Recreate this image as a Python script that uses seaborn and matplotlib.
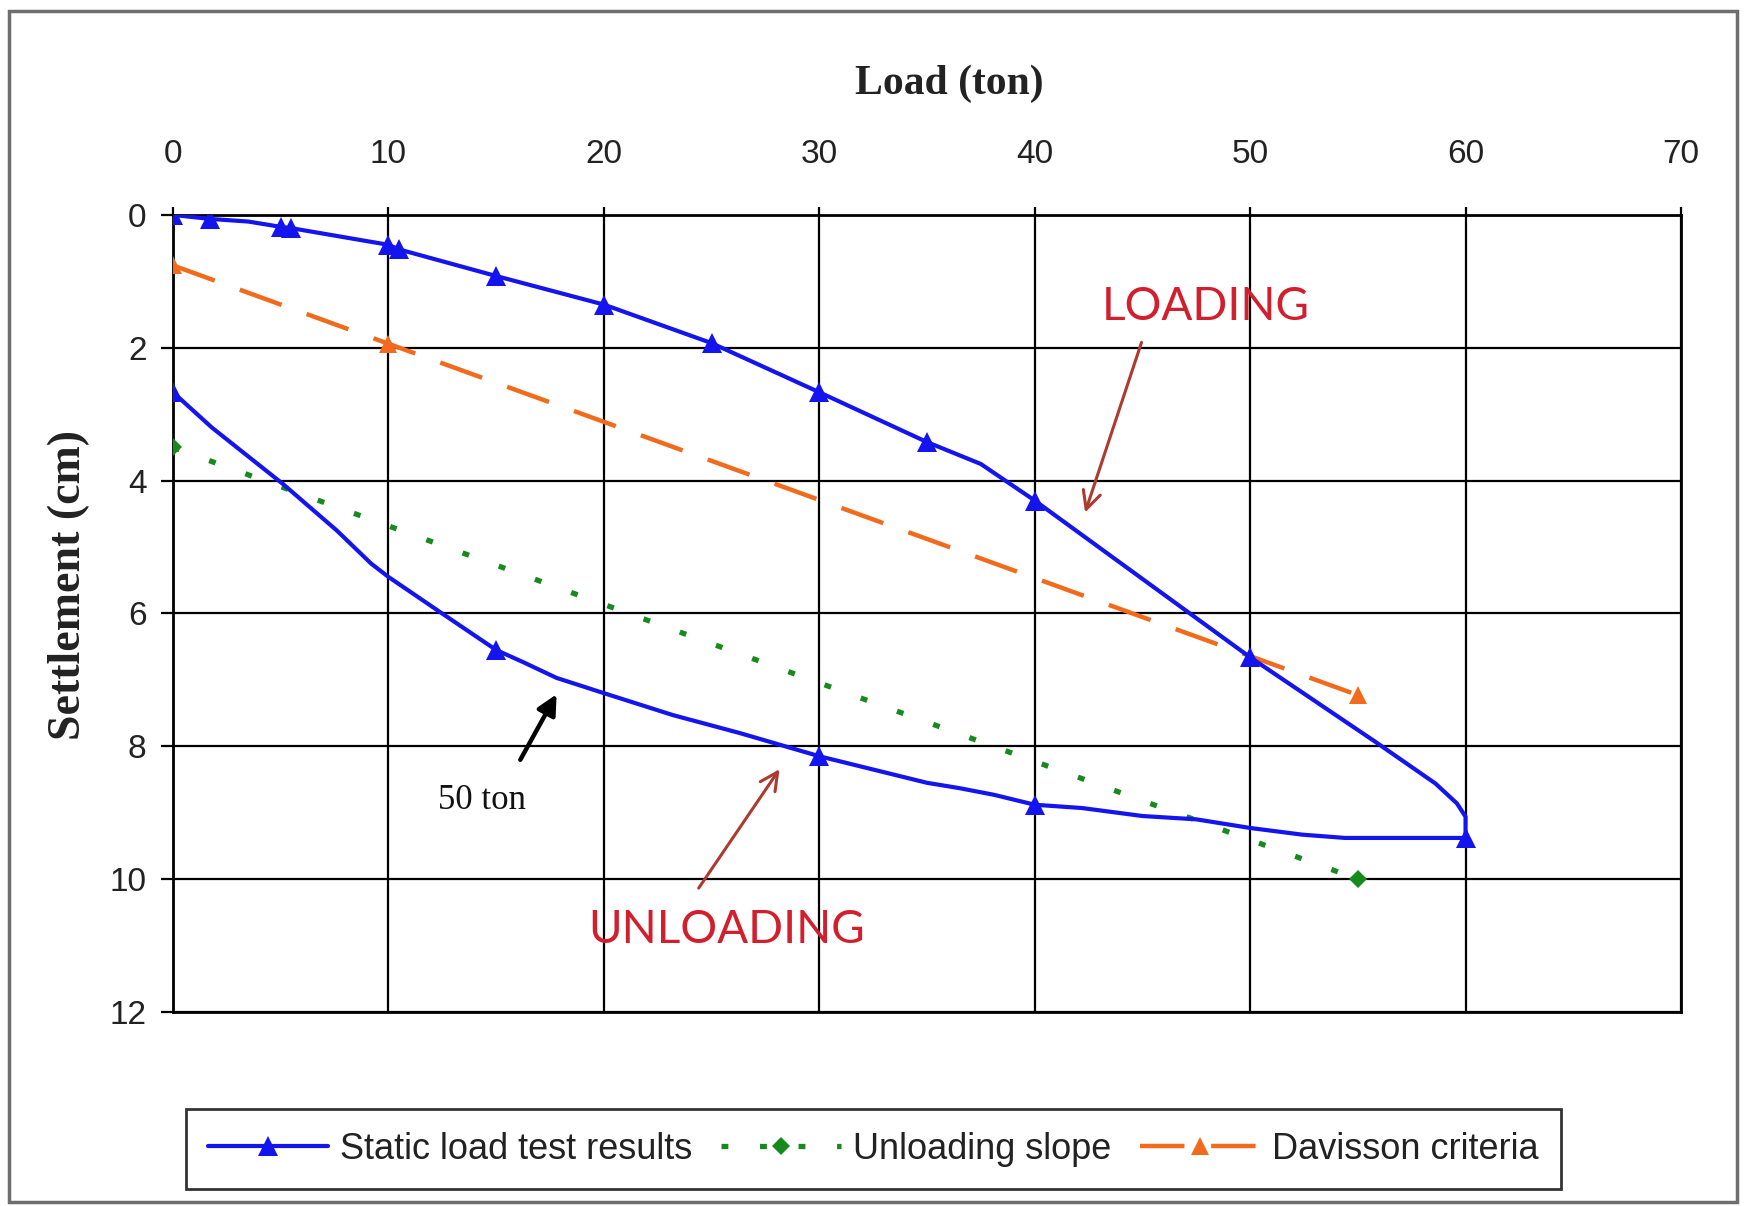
import matplotlib
matplotlib.use("Agg")
import matplotlib.pyplot as plt
import seaborn as sns
from matplotlib.patches import Rectangle

# ---------------- data ----------------
load_static = [0, 1.7, 3.5, 5, 5.5, 10, 10.5, 15, 20, 25, 30, 35, 37.5, 40, 50,
               55.8, 58.6, 59.6, 60, 60,
               54.4, 52.4, 50, 47.5, 45, 42.2, 40, 38.1, 36.5, 35, 30, 26.3, 23.2, 20,
               17.8, 16.3, 15, 12.4, 10, 9.2, 7.6, 5.1, 1.8, 0]
settle_static = [0, 0.06, 0.1, 0.18, 0.2, 0.45, 0.52, 0.92, 1.35, 1.93, 2.67, 3.42, 3.75, 4.3, 6.66,
                 7.93, 8.56, 8.86, 9.06, 9.38,
                 9.38, 9.33, 9.23, 9.1, 9.05, 8.93, 8.88, 8.73, 8.63, 8.55, 8.15, 7.8, 7.53, 7.2,
                 6.97, 6.74, 6.55, 5.98, 5.45, 5.25, 4.75, 4.05, 3.2, 2.67]
static_measured_idx = [0, 1, 3, 4, 5, 6, 7, 8, 9, 10, 11, 13, 14, 19, 26, 30, 36, 43]

load_unload_slope = [0, 55]
settle_unload_slope = [3.5, 10.0]

load_davisson = [0, 10, 55]
settle_davisson = [0.76, 1.94, 7.23]

x_ticks = [0, 10, 20, 30, 40, 50, 60, 70]
y_ticks = [0, 2, 4, 6, 8, 10, 12]

series_labels = ["Static load test results", "Unloading slope", "Davisson criteria"]

# ---------------- style ----------------
sns.set_theme(style="white")
plt.rcParams["font.family"] = ["Liberation Sans", "DejaVu Sans"]

BLUE = "#1414ee"
GREEN = "#168a1c"
ORANGE = "#f26a1b"
RED = "#d21f2e"
BROWN = "#ad3a30"

fig = plt.figure(figsize=(17.49, 12.06), dpi=100)
fig.patch.set_facecolor("white")
ax = fig.add_axes([0.0989, 0.1609, 0.8622, 0.6609])
ax.set_facecolor("white")

sns.lineplot(x=load_static, y=settle_static, sort=False, estimator=None, ax=ax,
             color=BLUE, lw=3.0, marker="^", markersize=14, markeredgewidth=0,
             markevery=static_measured_idx, label=series_labels[0], zorder=5)
sns.lineplot(x=load_unload_slope, y=settle_unload_slope, sort=False, estimator=None, ax=ax,
             color=GREEN, lw=3.8, linestyle=(0, (1.3, 6.0)), marker="D", markersize=9,
             markeredgewidth=0, label=series_labels[1], zorder=4)
sns.lineplot(x=load_davisson, y=settle_davisson, sort=False, estimator=None, ax=ax,
             color=ORANGE, lw=3.2, linestyle=(0, (10, 6)), marker="^", markersize=13,
             markeredgewidth=0, label=series_labels[2], zorder=4)

ax.set_xlim(0, 70)
ax.set_ylim(12, 0)
ax.set_xticks(x_ticks)
ax.set_yticks(y_ticks)
ax.xaxis.tick_top()
ax.tick_params(axis="x", which="both", top=True, bottom=False, labeltop=True,
               labelbottom=False, direction="out", length=6, width=1.6, color="black",
               pad=26, labelsize=24, labelcolor="#222222")
ax.tick_params(axis="y", which="both", left=True, direction="out", length=9, width=1.6,
               color="black", pad=10, labelsize=24, labelcolor="#222222")
ax.grid(True, color="black", lw=1.6)
for s in ax.spines.values():
    s.set_visible(True)
    s.set_color("black")
    s.set_linewidth(2.0)

ax.set_xlabel("Load (ton)", fontfamily="Liberation Serif", fontweight="bold",
              fontsize=30, color="#222222")
ax.xaxis.set_label_position("top")
ax.xaxis.set_label_coords(0.515, 1.164)
ax.xaxis.label.set_va("center")
ax.set_ylabel("Settlement (cm)", fontfamily="Liberation Serif", fontweight="bold",
              fontsize=33, color="#222222")
ax.yaxis.set_label_coords(-0.069, 0.536)
ax.yaxis.label.set_va("center")

# annotations
ax.text(47.96, 1.39, "LOADING", color=RED, fontfamily="Lato", fontsize=33,
        ha="center", va="center")
ax.annotate("", xy=(42.3, 4.52), xytext=(45.0, 1.88),
            arrowprops=dict(arrowstyle="->", color=BROWN, lw=2.2, mutation_scale=32))
ax.text(25.72, 10.77, "UNLOADING", color=RED, fontfamily="Lato", fontsize=33,
        ha="center", va="center")
ax.annotate("", xy=(28.23, 8.31), xytext=(24.33, 10.17),
            arrowprops=dict(arrowstyle="->", color=BROWN, lw=2.2, mutation_scale=32))
ax.text(14.35, 8.81, "50 ton", color="#111111", fontfamily="Liberation Serif",
        fontsize=25, ha="center", va="center")
ax.annotate("", xy=(17.87, 7.18), xytext=(16.06, 8.24),
            arrowprops=dict(arrowstyle="-|>", color="black", lw=3.2, mutation_scale=30))

# legend at the bottom of the figure
handles, labels = ax.get_legend_handles_labels()
ax.get_legend().remove()
leg = fig.legend(handles, labels, loc="center", bbox_to_anchor=(0.4995, 0.047), ncol=3,
                 frameon=True, fancybox=False, edgecolor="black",
                 prop={"family": ["Liberation Sans"], "size": 26},
                 handlelength=3.3, handletextpad=0.35, columnspacing=0.8,
                 borderpad=0.62, borderaxespad=0)
leg.get_frame().set_linewidth(2.0)
for t in leg.get_texts():
    t.set_color("#222222")

# outer grey border of the chart area
fig.patches.append(Rectangle((9 / 1749, 1 - 1202 / 1206), (1737 - 9) / 1749,
                             (1202 - 11) / 1206, transform=fig.transFigure,
                             fill=False, edgecolor="#6e6e6e", lw=2.5))

fig.savefig("out.png", dpi=100, facecolor="white")
